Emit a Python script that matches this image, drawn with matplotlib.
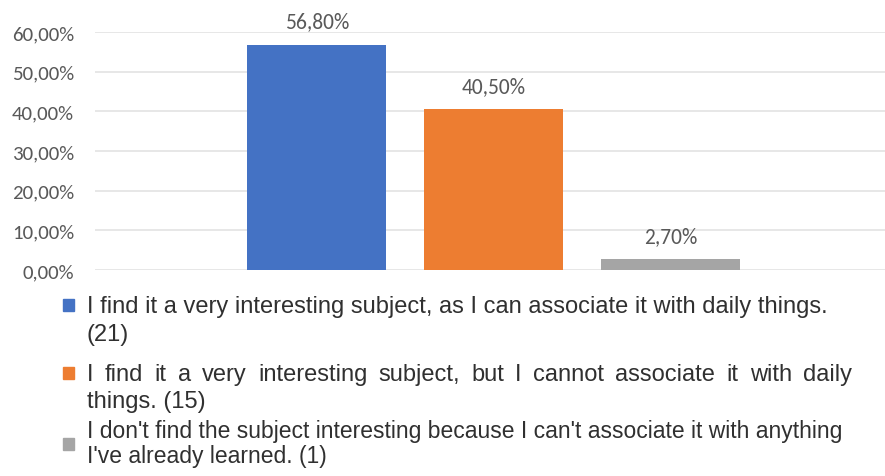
import matplotlib
matplotlib.use('Agg')
import matplotlib.pyplot as plt
from matplotlib.patches import Rectangle

# data
labels = ['I find it a very interesting subject, as I can associate it with daily things. (21)',
          'I find it a very interesting subject, but I cannot associate it with daily things. (15)',
          "I don't find the subject interesting because I can't associate it with anything I've already learned. (1)"]
values = [56.8, 40.5, 2.7]
value_text = ['56,80%', '40,50%', '2,70%']
colors = ['#4472C4', '#ED7D31', '#A5A5A5']
yticks = [0, 10, 20, 30, 40, 50, 60]
ytick_labels = ['0,00%', '10,00%', '20,00%', '30,00%', '40,00%', '50,00%', '60,00%']

# legend lines as they wrap in the picture
legend_lines = [
    ['I find it a very interesting subject, as I can associate it with daily things.', '(21)'],
    ['I find it a very interesting subject, but I cannot associate it with daily', 'things. (15)'],
    ["I don't find the subject interesting because I can't associate it with anything", "I've already learned. (1)"],
]

W, H = 885, 477
fig = plt.figure(figsize=(W / 100, H / 100), dpi=100)
ax = fig.add_axes([95 / W, 1 - 271 / H, (W - 95) / W, (271 - 33) / H])

num_font = ['Carlito', 'DejaVu Sans']
x = range(len(values))
ax.bar(x, values, width=0.785, color=colors, zorder=3)
ax.set_xlim(-1.254, 3.21)
ax.set_ylim(0, 60)
ax.set_yticks(yticks)
ax.set_yticklabels(ytick_labels, fontsize=15, color='#595959', family=num_font)
ax.tick_params(axis='y', length=0, pad=15)
ax.set_xticks([])
ax.grid(axis='y', color='#e3e3e3', lw=1.2, zorder=0)
for s in ax.spines.values():
    s.set_visible(False)

for i, v in enumerate(values):
    ax.annotate(value_text[i], (i, v), xytext=(0, 17), textcoords='offset points',
                ha='center', va='center', fontsize=15.5, color='#595959', family=num_font)

# legend drawn by hand (pixel layout)
leg_font = ['Liberation Sans', 'DejaVu Sans']
baselines = [(313, 341), (381, 408), (438, 463)]
squares = [300, 368, 439]
sizes = [17, 17, 16.5]
renderer = fig.canvas.get_renderer()


def justified(txt, x0, x1, yb, size):
    words = txt.split(' ')
    arts = [fig.text(0, 1 - yb / H, w, fontsize=size, family=leg_font, color='#303030', va='baseline')
            for w in words]
    widths = [a.get_window_extent(renderer).width for a in arts]
    gap = (x1 - x0 - sum(widths)) / (len(words) - 1)
    xx = x0
    for a, w in zip(arts, widths):
        a.set_x(xx / W)
        xx += w + gap


for i in range(len(legend_lines)):
    fig.patches.append(Rectangle((63 / W, 1 - (squares[i] + 12) / H), 11 / W, 12 / H,
                                 transform=fig.transFigure, color=colors[i], figure=fig))
    l1, l2 = legend_lines[i]
    if i == 1:
        justified(l1, 87, 852, baselines[i][0], sizes[i])
    else:
        fig.text(87 / W, 1 - baselines[i][0] / H, l1, fontsize=sizes[i], family=leg_font,
                 color='#303030', va='baseline')
    fig.text(87 / W, 1 - baselines[i][1] / H, l2, fontsize=sizes[i], family=leg_font,
             color='#303030', va='baseline')

fig.savefig('out.png', dpi=100)
